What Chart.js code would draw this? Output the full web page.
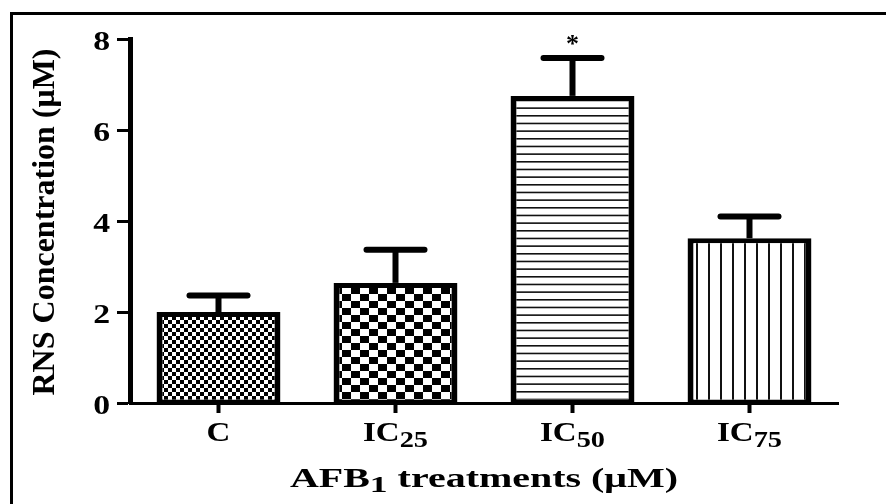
<!DOCTYPE html>
<html>
<head>
<meta charset="utf-8">
<script src="https://cdn.jsdelivr.net/npm/chart.js@4.4.1/dist/chart.umd.min.js"></script>
<style>
  html, body { margin: 0; padding: 0; background: #fff; }
  #wrap { position: relative; width: 886px; height: 504px; overflow: hidden; }
  #frame { position: absolute; left: 10px; top: 12px; width: 2000px; height: 2000px;
           border-left: 3px solid #000; border-top: 3px solid #000; pointer-events: none; }
</style>
</head>
<body>
<div id="wrap">
  <canvas id="chart"></canvas>
  <div id="frame"></div>
</div>
<script>
// data
const labelMain = ['C', 'IC', 'IC', 'IC'];
const labelSub = ['', '25', '50', '75'];
const means = [2.0, 2.64, 6.75, 3.62];
const sem = [0.36, 0.73, 0.83, 0.48];
const marks = ['', '', '*', ''];
const yMin = 0, yMax = 8, yStep = 2;

const yTitle = 'RNS Concentration (μM)';
const xTitleParts = [['AFB', false], ['1', true], [' treatments (μM)', false]];

const FAMILY = "'Liberation Serif', 'Times New Roman', serif";
Chart.defaults.font.family = FAMILY;

// bar fill patterns
function makePattern(w, h, drawFn) {
  const c = document.createElement('canvas');
  c.width = w; c.height = h;
  const g = c.getContext('2d');
  g.fillStyle = '#fff';
  g.fillRect(0, 0, w, h);
  g.fillStyle = '#000';
  drawFn(g, w, h);
  return g.createPattern(c, 'repeat');
}

const fills = [
  makePattern(8, 8, g => { g.fillRect(0, 0, 4, 4); g.fillRect(4, 4, 4, 4); }),
  makePattern(18, 14, g => { g.fillRect(0, 0, 9, 7); g.fillRect(9, 7, 9, 7); }),
  makePattern(4, 23, g => { g.fillStyle = '#111'; [0, 7.67, 15.33].forEach(y => g.fillRect(0, y, 4, 1.6)); }),
  makePattern(12, 4, g => { g.fillStyle = '#111'; g.fillRect(0, 0, 2, 4); })
];

// text with subscripts, stretched horizontally by sx, centred on cx
function drawRich(ctx, parts, cx, y, size, subSize, shift, sx) {
  const widths = parts.map(([t, sub]) => {
    ctx.font = `bold ${sub ? subSize : size}px ${FAMILY}`;
    return ctx.measureText(t).width;
  });
  const total = widths.reduce((a, b) => a + b, 0);
  ctx.save();
  ctx.translate(cx, y);
  ctx.scale(sx, 1);
  ctx.textAlign = 'left';
  ctx.textBaseline = 'alphabetic';
  ctx.fillStyle = '#000';
  let x = -total / 2;
  parts.forEach(([t, sub], i) => {
    ctx.font = `bold ${sub ? subSize : size}px ${FAMILY}`;
    ctx.fillText(t, x, sub ? shift : 0);
    x += widths[i];
  });
  ctx.restore();
}

const figurePlugin = {
  id: 'figurePlugin',
  afterDatasetsDraw(chart) {
    const ctx = chart.ctx;
    const y = chart.scales.y;
    const meta = chart.getDatasetMeta(0);
    ctx.save();
    ctx.strokeStyle = '#000';
    meta.data.forEach((bar, i) => {
      const top = y.getPixelForValue(means[i] + sem[i]);
      const base = y.getPixelForValue(means[i]);
      ctx.lineWidth = 6;
      ctx.lineCap = 'butt';
      ctx.beginPath();
      ctx.moveTo(bar.x, base);
      ctx.lineTo(bar.x, top);
      ctx.stroke();
      ctx.lineCap = 'round';
      ctx.beginPath();
      ctx.moveTo(bar.x - 29, top);
      ctx.lineTo(bar.x + 29, top);
      ctx.stroke();
      // significance mark above the error bar
      if (marks[i]) {
        ctx.font = `bold 26px ${FAMILY}`;
        ctx.textAlign = 'center';
        ctx.textBaseline = 'alphabetic';
        ctx.fillStyle = '#000';
        ctx.fillText(marks[i], bar.x, top - 6);
      }
    });
    ctx.restore();
  },
  afterDraw(chart) {
    const ctx = chart.ctx;
    const xs = chart.scales.x, ys = chart.scales.y;
    const area = chart.chartArea;

    // y tick labels
    ys.ticks.forEach(t => {
      const py = ys.getPixelForValue(t.value);
      ctx.save();
      ctx.translate(110, py + 11);
      ctx.scale(1.25, 1);
      ctx.font = `bold 27px ${FAMILY}`;
      ctx.textAlign = 'right';
      ctx.textBaseline = 'alphabetic';
      ctx.fillStyle = '#000';
      ctx.fillText(String(t.value), 0, 0);
      ctx.restore();
    });

    // x tick labels
    labelMain.forEach((m, i) => {
      const px = xs.getPixelForValue(i);
      const parts = [[m, false]];
      if (labelSub[i]) parts.push([labelSub[i], true]);
      drawRich(ctx, parts, px, 441, 28, 24, 6, 1.18);
    });

    // x title
    drawRich(ctx, xTitleParts, (area.left + area.right) / 2, 487, 27, 24, 5, 1.48);

    // y title
    ctx.save();
    ctx.translate(53.5, (area.top + area.bottom) / 2 + 1);
    ctx.rotate(-Math.PI / 2);
    ctx.font = `bold 32px ${FAMILY}`;
    ctx.textAlign = 'center';
    ctx.textBaseline = 'alphabetic';
    ctx.fillStyle = '#000';
    ctx.fillText(yTitle, 0, 0);
    ctx.restore();
  }
};

new Chart(document.getElementById('chart'), {
  type: 'bar',
  data: {
    labels: labelMain.map((m, i) => m + labelSub[i]),
    datasets: [{
      data: means,
      backgroundColor: fills,
      borderColor: '#000',
      borderWidth: { top: 5, left: 6, right: 6, bottom: 3 },
      borderSkipped: false,
      barPercentage: 0.7,
      categoryPercentage: 1.0
    }]
  },
  options: {
    responsive: true,
    maintainAspectRatio: false,
    animation: false,
    devicePixelRatio: 1,
    layout: { padding: { left: 0, top: 39, right: 48, bottom: 0 } },
    plugins: { legend: { display: false }, tooltip: { enabled: false } },
    scales: {
      x: {
        ticks: { display: false },
        grid: { offset: false, drawOnChartArea: false, drawTicks: true, tickLength: 10, tickWidth: 4, tickColor: '#000' },
        border: { display: true, width: 3, color: '#000' },
        afterFit(s) { s.height = 101; }
      },
      y: {
        min: yMin,
        max: yMax,
        ticks: { display: false, stepSize: yStep },
        grid: { drawOnChartArea: false, drawTicks: true, tickLength: 13, tickWidth: 3, tickColor: '#000' },
        border: { display: true, width: 5, color: '#000' },
        afterFit(s) { s.width = 130; }
      }
    }
  },
  plugins: [figurePlugin]
});
</script>
</body>
</html>
